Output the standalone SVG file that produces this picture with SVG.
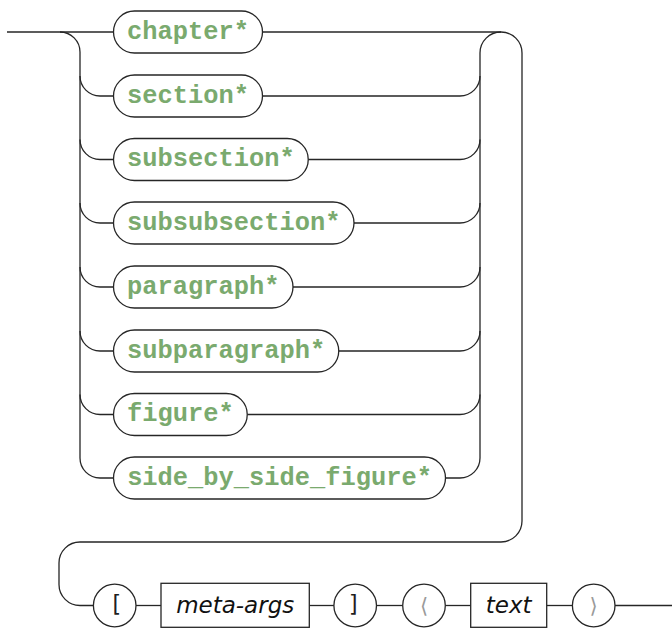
<svg xmlns="http://www.w3.org/2000/svg" width="672" height="628" viewBox="0 0 672 628">
  <style>
    .rail { fill: none; stroke: #262626; stroke-width: 1.3; }
    .term rect { fill: #ffffff; stroke: #262626; stroke-width: 1.3; }
    .term text { font-family: "Liberation Mono", "DejaVu Sans Mono", monospace; font-weight: bold; font-size: 25.4px; fill: #7aaa6e; text-anchor: middle; }
    .box rect { fill: #ffffff; stroke: #262626; stroke-width: 1.3; }
    .box text { font-family: "DejaVu Sans", sans-serif; font-style: italic; font-size: 23px; fill: #111111; text-anchor: middle; }
    .lit circle { fill: #ffffff; stroke: #262626; stroke-width: 1.3; }
    .lit text { font-family: "DejaVu Sans Mono", monospace; font-size: 22.5px; fill: #1e1e1e; text-anchor: middle; }
    .lit text.ang { font-family: "DejaVu Sans", sans-serif; font-size: 21px; fill: #9a9a9a; }
  </style>

  <!-- connectors -->
  <g id="connectors" class="rail">
    <!-- entry and top branch -->
    <path d="M7,32 H113.5"/>
    <path d="M262.5,32 H501"/>
    <!-- left fan-out -->
    <path d="M60,32 A20,20 0 0 1 80,52 V458 A20,20 0 0 0 100,478 H113.5"/>
    <path d="M80,76 A20,20 0 0 0 100,96 H113.5"/>
    <path d="M80,139.5 A20,20 0 0 0 100,159.5 H113.5"/>
    <path d="M80,203 A20,20 0 0 0 100,223 H113.5"/>
    <path d="M80,267 A20,20 0 0 0 100,287 H113.5"/>
    <path d="M80,331 A20,20 0 0 0 100,351 H113.5"/>
    <path d="M80,394.5 A20,20 0 0 0 100,414.5 H113.5"/>
    <!-- right fan-in -->
    <path d="M262.5,96 H460 A20,20 0 0 0 480,76"/>
    <path d="M308.25,159.5 H460 A20,20 0 0 0 480,139.5"/>
    <path d="M354,223 H460 A20,20 0 0 0 480,203"/>
    <path d="M293,287 H460 A20,20 0 0 0 480,267"/>
    <path d="M338.75,351 H460 A20,20 0 0 0 480,331"/>
    <path d="M247.25,414.5 H460 A20,20 0 0 0 480,394.5"/>
    <path d="M445.5,478 H460 A20,20 0 0 0 480,458 V53 A21,21 0 0 1 501,32"/>
    <!-- wrap to second line -->
    <path d="M501,32 A21,21 0 0 1 522,53 V521 A21,21 0 0 1 501,542 H80 A21,21 0 0 0 59,563 V584.5 A21,21 0 0 0 80,605.5 H93.4"/>
    <!-- second line -->
    <path d="M136,605.5 H161"/>
    <path d="M309.3,605.5 H334"/>
    <path d="M376.4,605.5 H402.7"/>
    <path d="M445.3,605.5 H470.7"/>
    <path d="M546.7,605.5 H572.3"/>
    <path d="M615,605.5 H672"/>
  </g>

  <!-- choice terminals -->
  <g id="chapter" class="term"><rect x="113.5" y="11" width="149" height="42" rx="21"/><text x="188" y="38.5">chapter*</text></g>
  <g id="section" class="term"><rect x="113.5" y="75" width="149" height="42" rx="21"/><text x="188" y="102.5">section*</text></g>
  <g id="subsection" class="term"><rect x="113.5" y="138.5" width="194.75" height="42" rx="21"/><text x="210.9" y="166">subsection*</text></g>
  <g id="subsubsection" class="term"><rect x="113.5" y="202" width="240.5" height="42" rx="21"/><text x="233.75" y="229.5">subsubsection*</text></g>
  <g id="paragraph" class="term"><rect x="113.5" y="266" width="179.5" height="42" rx="21"/><text x="203.25" y="293.5">paragraph*</text></g>
  <g id="subparagraph" class="term"><rect x="113.5" y="330" width="225.25" height="42" rx="21"/><text x="226.1" y="357.5">subparagraph*</text></g>
  <g id="figure" class="term"><rect x="113.5" y="393.5" width="133.75" height="42" rx="21"/><text x="180.4" y="421">figure*</text></g>
  <g id="side_by_side_figure" class="term"><rect x="113.5" y="457" width="332" height="42" rx="21"/><text x="279.5" y="484.5">side_by_side_figure*</text></g>

  <!-- second line items -->
  <g id="lbracket" class="lit"><circle cx="114.7" cy="605.5" r="21.3"/><text x="116" y="612">[</text></g>
  <g id="meta-args" class="box"><rect x="161" y="583.3" width="148.3" height="44"/><text x="235.2" y="613">meta-args</text></g>
  <g id="rbracket" class="lit"><circle cx="355.2" cy="605.5" r="21.3"/><text x="354" y="612">]</text></g>
  <g id="langle" class="lit"><circle cx="424" cy="605.5" r="21.3"/><text class="ang" x="424" y="613">⟨</text></g>
  <g id="text" class="box"><rect x="470.7" y="583.3" width="76" height="44"/><text x="508.7" y="613">text</text></g>
  <g id="rangle" class="lit"><circle cx="593.7" cy="605.5" r="21.3"/><text class="ang" x="593.7" y="613">⟩</text></g>
</svg>
